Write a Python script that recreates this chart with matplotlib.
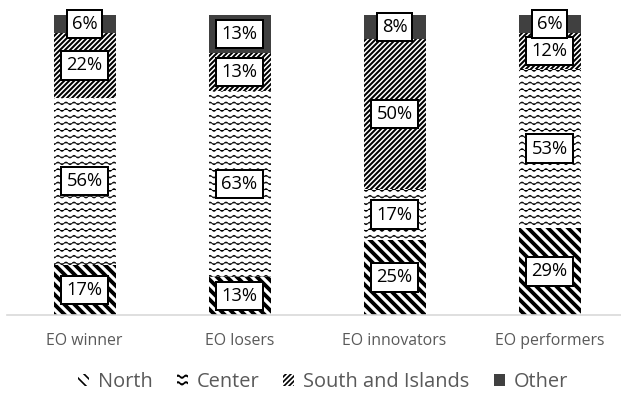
import warnings
import numpy as np
import matplotlib
matplotlib.use("Agg")
import matplotlib.pyplot as plt
import matplotlib.hatch as mhatch
from matplotlib.path import Path

warnings.filterwarnings("ignore", message=".*hatch must consist.*")

categories = ["EO winner", "EO losers", "EO innovators", "EO performers"]
north = [17, 13, 25, 29]
center = [56, 63, 17, 53]
south = [22, 13, 50, 12]
other = [6, 13, 8, 6]

series_names = ["North", "Center", "South and Islands", "Other"]


# wavy hatch for the "Center" segments ('~' in the hatch string)
class WaveHatch(mhatch.HatchPatternBase):
    def __init__(self, hatch, density):
        n = hatch.count("~")
        self.rows = 18 * n
        self.waves = 15 * n
        self.pts = self.waves * 8 + 1
        self.num_vertices = self.rows * self.pts if n else 0

    def set_vertices_and_codes(self, vertices, codes):
        x = np.linspace(0, 1, self.pts)
        amp = 0.2 / self.rows
        for i in range(self.rows):
            y0 = (i + 0.5) / self.rows
            s = slice(i * self.pts, (i + 1) * self.pts)
            vertices[s, 0] = x
            vertices[s, 1] = y0 + amp * np.sin(2 * np.pi * self.waves * x)
            codes[s] = Path.LINETO
            codes[i * self.pts] = Path.MOVETO


mhatch._hatch_types.append(WaveHatch)

plt.rcParams["font.family"] = ["Open Sans", "DejaVu Sans"]

DPI = 120
fig = plt.figure(figsize=(621 / DPI, 395 / DPI), dpi=DPI)
ax = fig.add_axes([7 / 621, 80 / 395, 620 / 621, 300 / 395])

data = np.array([north, center, south, other], dtype=float)
frac = data / data.sum(axis=0)
x = np.arange(len(categories))

hatches = ["\\" * 4, "~", "/" * 8, None]
hlw = [2.3, 0.5, 1.2, 1.0]
faces = ["white", "white", "white", "#404040"]
edges = ["black", "black", "black", "#404040"]

bottom = np.zeros(len(categories))
for i, name in enumerate(series_names):
    with plt.rc_context({"hatch.linewidth": hlw[i]}):
        bars = ax.bar(x, frac[i], 0.4, bottom=bottom, color=faces[i],
                      edgecolor=edges[i], linewidth=0, hatch=hatches[i],
                      label=name)
    for b in bars:
        if hasattr(b, "set_hatch_linewidth"):
            b.set_hatch_linewidth(hlw[i])
    for j in range(len(categories)):
        ax.text(x[j], bottom[j] + frac[i][j] / 2, f"{int(data[i][j])}%",
                ha="center", va="center", fontsize=11, color="black",
                bbox=dict(boxstyle="square,pad=0.28", fc="white",
                          ec="black", lw=1.2))
    bottom += frac[i]

ax.set_xlim(-0.5, 3.5)
ax.set_ylim(0, 1)
ax.set_xticks(x)
ax.set_xticklabels(categories, fontsize=9.5, color="#595959")
ax.tick_params(axis="x", length=0, pad=11)
ax.set_yticks([])
for sp in ["left", "right", "top"]:
    ax.spines[sp].set_visible(False)
ax.spines["bottom"].set_color("#d9d9d9")
ax.spines["bottom"].set_linewidth(1.0)

leg = fig.legend(loc="center", bbox_to_anchor=(0.52, 13 / 395), ncol=4,
                 frameon=False, fontsize=12, handlelength=0.55,
                 handleheight=0.55, handletextpad=0.45, columnspacing=1.2)
for t in leg.get_texts():
    t.set_color("#595959")

fig.savefig("out.png", dpi=DPI)
